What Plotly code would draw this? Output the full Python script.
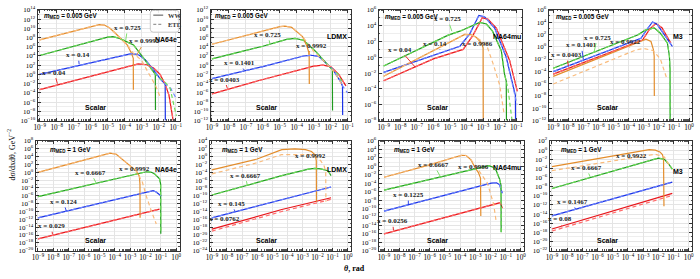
import plotly.graph_objects as go

W, H = 700, 279

# ---------------- colours ----------------
RED, RED_L = "#e8161b", "#ff6a6a"
BLUE, BLUE_L = "#1a32e6", "#6f86ff"
GREEN, GREEN_L = "#1f9a1f", "#6edc5a"
ORANGE, ORANGE_L = "#e38d2c", "#f9bb7c"

# ---------------- data: top-left  NA64e, m_MED = 0.005 GeV ----------------
t1_orange_theta = [1e-9, 1e-8, 1e-7, 1e-6, 3.2e-6, 6.3e-6, 1.26e-5, 2.3e-5, 5.6e-5, 1.4e-4, 2.5e-4, 3.2e-4, 3.24e-4]
t1_orange_ww = [3.2e7, 2.8e8, 2.5e9, 2.2e10, 6.3e10, 5e10, 1.26e10, 1.8e9, 6.3e7, 2.5e6, 4e4, 3.2e3, 5e-4]
t1_orange_etl_theta = [1e-9, 1e-8, 1e-7, 1e-6, 3.2e-6, 6.3e-6, 1.26e-5, 2.3e-5, 5.6e-5, 1.4e-4, 3.2e-4, 1e-3, 2.5e-3, 6.3e-3, 1.26e-2]
t1_orange_etl = [3.2e7, 2.8e8, 2.5e9, 2.2e10, 6.3e10, 5e10, 1.26e10, 1.8e9, 6.3e7, 2.5e6, 4e4, 1e3, 2, 5e-3, 1e-5]
t1_green_theta = [1e-9, 1e-7, 3.2e-6, 1e-5, 2e-5, 5e-5, 1.26e-4, 3.3e-4, 1.26e-3, 4.9e-3, 6.3e-3, 6.45e-3]
t1_green_ww = [1.26e4, 1.26e6, 4e7, 1.26e8, 1.6e8, 6.3e7, 1.26e7, 2.5e6, 4e3, 5, 1, 2e-8]
t1_green_etl_theta = [1e-9, 1e-7, 3.2e-6, 1e-5, 2e-5, 5e-5, 1.26e-4, 3.3e-4, 1.26e-3, 4.9e-3, 6.3e-3, 2.5e-2, 4.7e-2, 7.1e-2, 1.1e-1]
t1_green_etl = [1.26e4, 1.26e6, 4e7, 1.26e8, 1.6e8, 6.3e7, 1.26e7, 2.5e6, 4e3, 5, 1, 1.6e-2, 1e-3, 1e-6, 1e-9]
t1_blue_theta = [1e-9, 1e-7, 1e-5, 1e-4, 2.5e-4, 6.3e-4, 1.6e-3, 5e-3, 1.26e-2, 2.4e-2, 2.45e-2]
t1_blue_ww = [1, 50, 2.2e3, 1.6e4, 3.2e4, 2e4, 1.6e3, 10, 0.1, 7.9e-3, 1e-10]
t1_blue_etl_theta = [1e-9, 1e-7, 1e-5, 1e-4, 2.5e-4, 6.3e-4, 1.6e-3, 5e-3, 1.26e-2, 2.4e-2, 5e-2, 1e-1]
t1_blue_etl = [1, 50, 2.2e3, 1.6e4, 3.2e4, 2e4, 1.6e3, 10, 0.1, 7.9e-3, 1e-3, 1e-5]
t1_red_theta = [1e-9, 1e-6, 1e-4, 6.3e-4, 2e-3, 5e-3, 1.2e-2, 2.4e-2, 4e-2, 7.1e-2]
t1_red_ww = [5e-4, 0.4, 40, 200, 126, 25, 1, 7.9e-3, 3.2e-5, 1e-10]

# ---------------- data: LDMX, m_MED = 0.005 GeV ----------------
t2_orange_theta = [1e-9, 1e-7, 3.2e-6, 1e-5, 2e-5, 5e-5, 2.2e-4, 4e-4, 5.4e-4, 5.5e-4]
t2_orange_ww = [3.5e4, 2.5e6, 7.1e7, 2.2e8, 2.8e8, 1.6e8, 1.6e6, 1.26e4, 316, 7.9e-5]
t2_orange_etl_theta = [1e-9, 1e-7, 3.2e-6, 1e-5, 2e-5, 5e-5, 2.2e-4, 1e-3, 3.2e-3, 1e-2, 2.5e-2, 5e-2]
t2_orange_etl = [3.5e4, 2.5e6, 7.1e7, 2.2e8, 2.8e8, 1.6e8, 1.6e6, 1e3, 16, 0.32, 3.2e-3, 3.2e-5]
t2_green_theta = [1e-9, 1e-6, 2.5e-5, 7.9e-5, 2.5e-4, 1.3e-3, 7.9e-3, 1.26e-2, 1.29e-2]
t2_green_ww = [23, 1.26e4, 4e5, 6.3e5, 2.5e5, 1e3, 0.63, 0.1, 1.6e-10]
t2_green_etl_theta = [1e-9, 1e-6, 2.5e-5, 7.9e-5, 2.5e-4, 1.3e-3, 7.9e-3, 1.26e-2, 2.5e-2, 4.5e-2]
t2_green_etl = [23, 1.26e4, 4e5, 6.3e5, 2.5e5, 1e3, 0.63, 0.1, 1.6e-2, 3.2e-4]
t2_blue_theta = [1e-9, 1e-6, 2.5e-4, 6.8e-4, 2e-3, 1.35e-2, 4e-2, 5e-2, 5.1e-2]
t2_blue_ww = [1.26e-3, 0.5, 100, 141, 79, 0.126, 2e-4, 3.2e-5, 1.6e-11]
t2_blue_etl_theta = [1e-9, 1e-6, 2.5e-4, 6.8e-4, 2e-3, 1.35e-2, 4e-2, 5e-2, 1e-1]
t2_blue_etl = [1.26e-3, 0.5, 100, 141, 79, 0.126, 2e-4, 3.2e-5, 1e-6]
t2_red_theta = [1e-9, 1e-6, 1e-3, 3.5e-3, 1e-2, 3e-2, 7.9e-2]
t2_red_ww = [6.3e-7, 7.9e-4, 0.63, 1, 0.5, 1e-2, 3.2e-5]

# ---------------- data: NA64mu, m_MED = 0.005 GeV ----------------
t3_orange_theta = [1e-9, 1e-6, 2.5e-5, 7.9e-5, 2e-4, 4e-4, 7.9e-4, 1e-3, 1.02e-3]
t3_orange_ww = [4e-3, 7.1, 250, 790, 710, 316, 63, 16, 1e-8]
t3_orange_etl_theta = [1e-9, 1e-6, 2.5e-5, 7.9e-5, 2e-4, 4e-4, 1.6e-3, 4e-3, 1e-2, 1.5e-2, 1.8e-2]
t3_orange_etl = [4e-3, 7.1, 250, 790, 710, 316, 40, 0.16, 3.2e-4, 1.6e-6, 1e-7]
t3_green_theta = [1e-9, 1e-7, 7.9e-6, 4e-5, 2.5e-4, 6.3e-4, 1.6e-3, 3.7e-3, 1.26e-2, 1.95e-2, 2.5e-2, 2.57e-2]
t3_green_ww = [7.9e-2, 7.9, 630, 2e3, 1e4, 2.5e4, 1.6e4, 2e3, 6.9, 7.9e-3, 1e-3, 1e-8]
t3_green_etl_theta = [1e-9, 1e-7, 7.9e-6, 4e-5, 2.5e-4, 6.3e-4, 1.6e-3, 3.7e-3, 1.26e-2, 1.95e-2, 3.2e-2, 4.9e-2, 5.6e-2]
t3_green_etl = [7.9e-2, 7.9, 630, 2e3, 1e4, 2.5e4, 1.6e4, 2e3, 6.9, 7.9e-3, 1e-4, 4e-8, 1e-8]
t3_blue_theta = [1e-9, 1e-6, 4e-5, 1.6e-4, 5.6e-4, 1.26e-3, 5e-3, 2.5e-2, 5.9e-2, 8.9e-2, 9.1e-2]
t3_blue_ww = [1.26e-2, 1.8, 25, 1e3, 2e5, 1.26e5, 5e3, 1, 5e-4, 1.6e-5, 1e-8]
t3_blue_etl_theta = [1e-9, 1e-6, 4e-5, 1.6e-4, 5.6e-4, 1.26e-3, 5e-3, 2.5e-2, 5.9e-2, 1.12e-1]
t3_blue_etl = [1.26e-2, 1.8, 25, 1e3, 2e5, 1.26e5, 5e3, 1, 5e-4, 1e-6]
t3_red_theta = [1e-9, 1e-6, 6.3e-5, 2.5e-4, 8.9e-4, 2e-3, 6.3e-3, 4e-2, 1.17e-1]
t3_red_ww = [1.07e-3, 0.63, 10, 630, 1e5, 6.3e4, 5e3, 0.4, 5e-5]

# ---------------- data: M3, m_MED = 0.005 GeV ----------------
t4_orange_theta = [1e-9, 4e-4, 1.4e-3, 3e-3, 4.4e-3, 4.9e-3, 5e-3]
t4_orange_ww = [1.5e-5, 5, 16.6, 7.1, 0.32, 3.2e-2, 1e-8]
t4_orange_etl_theta = [1e-9, 8.5e-5, 3.2e-4, 1e-3, 4e-3, 1.26e-2, 3.5e-2]
t4_orange_etl = [8.9e-7, 0.1, 0.32, 0.5, 0.25, 1e-2, 5e-6]
t4_green_theta = [1e-9, 3.9e-4, 1.26e-3, 4.9e-3, 1.26e-2, 3.7e-2, 5e-2, 5.5e-2, 5.6e-2]
t4_green_ww = [3.2e-4, 79, 500, 1.2e3, 158, 3.8, 3.2e-2, 2.1e-4, 1e-12]
t4_blue_theta = [1e-9, 6.5e-4, 1.6e-3, 3.8e-3, 7.9e-3, 2.5e-2, 7.9e-2]
t4_blue_ww = [9.1e-5, 24, 630, 1.07e4, 4e3, 79, 1.1]
t4_red_theta = [1e-9, 8.3e-4, 2.5e-3, 6.3e-3, 1.6e-2, 6.2e-2]
t4_red_ww = [3.5e-5, 12.6, 790, 5.9e3, 1.26e3, 3.8]

# ---------------- data: NA64e, m_MED = 1 GeV ----------------
b1_orange_theta = [1e-9, 1e-6, 2e-5, 5e-5, 1.26e-4, 1e-3, 2.6e-3, 4e-3, 4.4e-3, 4.5e-3]
b1_orange_ww = [1, 1.26e3, 3.2e4, 7.9e4, 4e4, 40, 2, 0.1, 1e-3, 2.5e-12]
b1_orange_etl_theta = [1e-9, 1e-6, 2e-5, 5e-5, 1.26e-4, 1e-3, 2.6e-3, 6.3e-3, 1.17e-2, 2.5e-2, 5.1e-2]
b1_orange_etl = [1, 1.26e3, 3.2e4, 7.9e4, 4e4, 40, 2, 3.2e-3, 6.3e-7, 1e-10, 6.3e-14]
b1_green_theta = [1e-9, 7.1e-3, 1.17e-2, 2.5e-2, 4e-2, 8.3e-2, 9.8e-2, 1e-1]
b1_green_ww = [6.3e-7, 1, 1.4, 1, 0.4, 2.1e-2, 1e-3, 2e-16]
b1_blue_theta = [1e-9, 1.9e-2, 3.2e-2, 5e-2, 1.07e-1]
b1_blue_ww = [2.5e-12, 1.9e-5, 2e-5, 1e-5, 8.9e-7]
b1_red_theta = [1e-9, 3.2e-2, 8.3e-2]
b1_red_ww = [1e-17, 1.6e-10, 4e-10]

# ---------------- data: LDMX, m_MED = 1 GeV ----------------
b2_orange_theta = [1e-9, 1e-6, 4.3e-5, 3.2e-4, 1.6e-3, 4e-3, 7.1e-3, 8.3e-3, 8.5e-3]
b2_orange_ww = [4.4e-4, 0.25, 59, 100, 63, 20, 2.5, 0.1, 3.2e-12]
b2_orange_etl_theta = [1e-9, 1e-6, 4e-5, 1e-3, 4e-3, 1.6e-2, 2.8e-2, 3.5e-2, 3.6e-2]
b2_orange_etl = [4e-5, 2.8e-2, 3.2, 4, 3.2, 0.1, 3.5e-3, 1e-4, 3.2e-12]
b2_green_theta = [1e-9, 4.3e-5, 2.5e-3, 6.5e-3, 1.6e-2, 4.9e-2, 7.9e-2]
b2_green_ww = [1.6e-10, 1.4e-5, 6.3e-4, 1e-3, 7.9e-4, 2.5e-4, 1.4e-5]
b2_blue_theta = [1e-9, 4.3e-5, 7.9e-2]
b2_blue_ww = [2.5e-16, 7.9e-12, 1.8e-8]
b2_red_theta = [1e-9, 4.3e-5, 7.9e-2]
b2_red_ww = [3.2e-19, 3.2e-14, 3.2e-11]
b2_red_etl = [1e-19, 1e-14, 1.26e-11]

# ---------------- data: NA64mu, m_MED = 1 GeV ----------------
b3_orange_theta = [1e-9, 1e-6, 5e-5, 1.26e-4, 2.5e-4, 5e-4, 1e-3, 1.6e-3, 2.2e-3, 2.3e-3]
b3_orange_ww = [2.5e-3, 2.2, 160, 400, 355, 40, 0.4, 3.2e-2, 1.6e-3, 1.6e-12]
b3_orange_etl_theta = [1e-9, 1e-6, 5e-5, 1.26e-4, 2.5e-4, 5e-4, 1e-3, 3.2e-3, 6.3e-3, 1.6e-2, 2.4e-2]
b3_orange_etl = [2.5e-3, 2.2, 160, 400, 355, 40, 1.6, 3.2e-3, 1e-4, 1e-9, 5e-14]
b3_green_theta = [1e-9, 4e-3, 7.9e-3, 1.6e-2, 2.4e-2, 3.9e-2, 4.9e-2, 5e-2]
b3_green_ww = [2.2e-6, 1.1, 1.4, 0.5, 8.9e-2, 1e-3, 3.2e-5, 2.5e-16]
b3_blue_theta = [1e-9, 1.1e-2, 2.5e-2, 4e-2, 5.9e-2]
b3_blue_ww = [2.3e-11, 1.07e-4, 1.26e-4, 4e-5, 4e-7]
b3_red_theta = [1e-9, 2.4e-2, 4.5e-2, 5.9e-2]
b3_red_ww = [1e-16, 2e-9, 2.5e-9, 1.26e-10]

# ---------------- data: M3, m_MED = 1 GeV ----------------
b4_orange_theta = [1e-9, 1e-6, 1e-4, 1e-3, 2.5e-3, 6.3e-3, 1.26e-2, 1.86e-2, 2.2e-2, 2.35e-2]
b4_orange_ww = [2.5e-4, 1.4e-2, 0.22, 0.79, 1.23, 1, 0.4, 0.107, 1e-2, 5e-13]
b4_orange_etl_theta = [1e-9, 1e-5, 1e-3, 6.3e-3, 2.5e-2, 6.3e-2]
b4_orange_etl = [3.2e-5, 4e-3, 5e-2, 0.126, 3.2e-2, 1.6e-4]
b4_green_theta = [1e-9, 6.8e-3, 1e-2, 2.5e-2, 5e-2, 8.3e-2]
b4_green_ww = [4e-9, 1.5e-2, 1.8e-2, 1e-2, 7.9e-4, 6.9e-5]
b4_blue_theta = [1e-9, 8.3e-2]
b4_blue_ww = [4e-15, 1e-7]
b4_red_theta = [1e-9, 8.3e-2]
b4_red_ww = [5.6e-18, 3.5e-10]
b4_red_etl = [2e-18, 1.26e-10]

# text content
experiments = ["NA64e", "LDMX", "NA64mu", "M3", "NA64e", "LDMX", "NA64mu", "M3"]
masses = ["0.005", "0.005", "0.005", "0.005", "1", "1", "1", "1"]
x_labels = [
    ["x = 0.04", "x = 0.14", "x = 0.725", "x = 0.9992"],
    ["x = 0.0403", "x = 0.1401", "x = 0.725", "x = 0.9992"],
    ["x = 0.04", "x = 0.14", "x = 0.725", "x = 0.9986"],
    ["x = 0.0403", "x = 0.1401", "x = 0.725", "x = 0.9922"],
    ["x = 0.029", "x = 0.124", "x = 0.6667", "x = 0.9992"],
    ["x = 0.0762", "x = 0.145", "x = 0.6667", "x = 0.9992"],
    ["x = 0.0256", "x = 0.1225", "x = 0.6667", "x = 0.9986"],
    ["x = 0.08", "x = 0.1467", "x = 0.6667", "x = 0.9922"],
]

# curves per panel: (solid colour, dashed colour, theta_ww, ww, theta_etl, etl)
curves = [
    [(RED, RED_L, t1_red_theta, t1_red_ww, t1_red_theta, t1_red_ww),
     (BLUE, BLUE_L, t1_blue_theta, t1_blue_ww, t1_blue_etl_theta, t1_blue_etl),
     (GREEN, GREEN_L, t1_green_theta, t1_green_ww, t1_green_etl_theta, t1_green_etl),
     (ORANGE, ORANGE_L, t1_orange_theta, t1_orange_ww, t1_orange_etl_theta, t1_orange_etl)],
    [(RED, RED_L, t2_red_theta, t2_red_ww, t2_red_theta, t2_red_ww),
     (BLUE, BLUE_L, t2_blue_theta, t2_blue_ww, t2_blue_etl_theta, t2_blue_etl),
     (GREEN, GREEN_L, t2_green_theta, t2_green_ww, t2_green_etl_theta, t2_green_etl),
     (ORANGE, ORANGE_L, t2_orange_theta, t2_orange_ww, t2_orange_etl_theta, t2_orange_etl)],
    [(RED, RED_L, t3_red_theta, t3_red_ww, t3_red_theta, t3_red_ww),
     (BLUE, BLUE_L, t3_blue_theta, t3_blue_ww, t3_blue_etl_theta, t3_blue_etl),
     (GREEN, GREEN_L, t3_green_theta, t3_green_ww, t3_green_etl_theta, t3_green_etl),
     (ORANGE, ORANGE_L, t3_orange_theta, t3_orange_ww, t3_orange_etl_theta, t3_orange_etl)],
    [(RED, RED_L, t4_red_theta, t4_red_ww, t4_red_theta, t4_red_ww),
     (BLUE, BLUE_L, t4_blue_theta, t4_blue_ww, t4_blue_theta, t4_blue_ww),
     (GREEN, GREEN_L, t4_green_theta, t4_green_ww, t4_green_theta, t4_green_ww),
     (ORANGE, ORANGE_L, t4_orange_theta, t4_orange_ww, t4_orange_etl_theta, t4_orange_etl)],
    [(RED, RED_L, b1_red_theta, b1_red_ww, b1_red_theta, b1_red_ww),
     (BLUE, BLUE_L, b1_blue_theta, b1_blue_ww, b1_blue_theta, b1_blue_ww),
     (GREEN, GREEN_L, b1_green_theta, b1_green_ww, b1_green_theta, b1_green_ww),
     (ORANGE, ORANGE_L, b1_orange_theta, b1_orange_ww, b1_orange_etl_theta, b1_orange_etl)],
    [(RED, RED_L, b2_red_theta, b2_red_ww, b2_red_theta, b2_red_etl),
     (BLUE, BLUE_L, b2_blue_theta, b2_blue_ww, b2_blue_theta, b2_blue_ww),
     (GREEN, GREEN_L, b2_green_theta, b2_green_ww, b2_green_theta, b2_green_ww),
     (ORANGE, ORANGE_L, b2_orange_theta, b2_orange_ww, b2_orange_etl_theta, b2_orange_etl)],
    [(RED, RED_L, b3_red_theta, b3_red_ww, b3_red_theta, b3_red_ww),
     (BLUE, BLUE_L, b3_blue_theta, b3_blue_ww, b3_blue_theta, b3_blue_ww),
     (GREEN, GREEN_L, b3_green_theta, b3_green_ww, b3_green_theta, b3_green_ww),
     (ORANGE, ORANGE_L, b3_orange_theta, b3_orange_ww, b3_orange_etl_theta, b3_orange_etl)],
    [(RED, RED_L, b4_red_theta, b4_red_ww, b4_red_theta, b4_red_etl),
     (BLUE, BLUE_L, b4_blue_theta, b4_blue_ww, b4_blue_theta, b4_blue_ww),
     (GREEN, GREEN_L, b4_green_theta, b4_green_ww, b4_green_theta, b4_green_ww),
     (ORANGE, ORANGE_L, b4_orange_theta, b4_orange_ww, b4_orange_etl_theta, b4_orange_etl)],
]

# ---------------- layout (pixel boxes of the plot areas) ----------------
boxes = [  # left, right, top, bottom (px), x range (log), y range (log)
    (33, 177, 6, 120, [-9.12, -0.75], [-10, 14]),
    (208, 350, 6, 120, [-9.08, -0.8], [-12, 12]),
    (378, 523, 6, 120, [-9.3, -0.65], [-8, 6]),
    (550, 695, 6, 120, [-9.3, 0.2], [-12, 6]),
    (31, 177, 141, 254, [-9.15, 0.25], [-20, 8]),
    (207, 350, 141, 254, [-9.15, 0.22], [-24, 4]),
    (378, 525, 141, 254, [-9.35, 0.2], [-20, 6]),
    (551, 695, 141, 254, [-9.15, 0.22], [-22, 2]),
]

# label boxes: (text centre px, pointer target px) for red, blue, green, orange
label_pos = [
    [((50, 71), (53, 82)), ((74, 53), (75, 62)), ((124, 25), (122, 38)), ((141, 39), (133, 53))],
    [((222, 78), (225, 87)), ((237, 61), (242, 68)), ((266, 32), (268, 41)), ((310, 43), (307, 52))],
    [((400, 48), (415, 65)), ((435, 41), (440, 47)), ((448, 16), (452, 28)), ((478, 41), (470, 36))],
    [((568, 53), (570, 64)), ((583, 43), (585, 57)), ((599, 35), (596, 49)), ((628, 39), (632, 45))],
    [((47, 229), (48, 237)), ((59, 204), (62, 213)), ((87, 174), (92, 184)), ((131, 170), (133, 176))],
    [((222, 222), (223, 228)), ((229, 206), (233, 214)), ((243, 177), (245, 186)), ((309, 156), (302, 152))],
    [((392, 224), (393, 233)), ((408, 197), (408, 207)), ((434, 166), (440, 177)), ((474, 168), (467, 172))],
    [((561, 222), (563, 228)), ((574, 204), (577, 211)), ((588, 169), (592, 178)), ((634, 157), (636, 162))],
]
m_pos = [(37, 12), (210, 12), (382, 13), (555, 13), (44, 150), (217, 150), (391, 150), (560, 150)]
exp_pos = [(176, 37), (348, 33), (524, 33), (688, 33), (176, 170), (348, 170), (524, 168), (688, 172)]
scalar_pos = [(92, 107), (265, 107), (437, 107), (609, 107), (92, 243), (265, 243), (437, 243), (609, 243)]

SERIF = "Liberation Serif"
SANS = "Liberation Sans"


def sup(e):
    return "10<sup>" + ("\u2212" if e < 0 else "") + str(abs(e)) + "</sup>"


fig = go.Figure()
layout = dict(
    width=W, height=H, autosize=False,
    margin=dict(l=0, r=0, t=0, b=0),
    paper_bgcolor="white", plot_bgcolor="white",
    showlegend=False,
    font=dict(family=SERIF, size=7, color="black"),
)
annotations = []
shapes = []

for i, (L, R, T, B, xr, yr) in enumerate(boxes):
    n = "" if i == 0 else str(i + 1)
    xa, ya = "x" + n, "y" + n
    xt = list(range(-9, 1))
    yt = [e for e in range(yr[0], yr[1] + 1) if e % 2 == 0]
    ym = [e for e in range(yr[0], yr[1] + 1) if e % 2 != 0]
    layout["xaxis" + n] = dict(
        type="log", range=xr, domain=[L / W, R / W], anchor=ya,
        tickmode="array", tickvals=[10.0 ** e for e in xt], ticktext=[sup(e) for e in xt],
        tickangle=0,
        ticks="inside", ticklen=3, tickcolor="#333", mirror="allticks",
        showline=True, linecolor="#333", linewidth=1,
        showgrid=True, gridcolor="#e4e4e4", gridwidth=0.6,
        minor=dict(dtick="D1", ticks="inside", ticklen=1.5, tickcolor="#555", showgrid=False),
        tickfont=dict(family=SERIF, size=7.2), zeroline=False,
    )
    layout["yaxis" + n] = dict(
        type="log", range=yr, domain=[1 - B / H, 1 - T / H], anchor=xa,
        tickmode="array", tickvals=[10.0 ** e for e in yt], ticktext=[sup(e) for e in yt],
        tickangle=0,
        ticks="inside", ticklen=3, tickcolor="#333", mirror="allticks",
        showline=True, linecolor="#333", linewidth=1,
        showgrid=True, gridcolor="#e4e4e4", gridwidth=0.6,
        minor=dict(tickvals=[10.0 ** e for e in ym], ticks="inside", ticklen=1.5,
                   tickcolor="#555", showgrid=True, gridcolor="#eeeeee"),
        tickfont=dict(family=SERIF, size=7), zeroline=False,
    )
    # curves: solid (WW) first, then dashed (ETL)
    for (c, cl, th, ww, the, etl) in curves[i]:
        fig.add_trace(go.Scatter(x=th, y=ww, mode="lines", xaxis=xa, yaxis=ya,
                                 line=dict(color=c, width=1.2), hoverinfo="skip"))
    for (c, cl, th, ww, the, etl) in curves[i]:
        fig.add_trace(go.Scatter(x=the, y=etl, mode="lines", xaxis=xa, yaxis=ya,
                                 line=dict(color=cl, width=1.2, dash="4px,3px"), hoverinfo="skip"))
    # curve labels with pointers
    for k, ((lx, ly), (tx, ty)) in enumerate(label_pos[i]):
        col = [RED, BLUE, GREEN_L, ORANGE][k]
        annotations.append(dict(
            x=tx / W, y=1 - ty / H, xref="paper", yref="paper",
            ax=lx - tx, ay=ly - ty, axref="pixel", ayref="pixel",
            text="<b>" + x_labels[i][k] + "</b>", showarrow=True, arrowhead=0,
            arrowwidth=0.9, arrowcolor=col, standoff=0, startstandoff=0,
            font=dict(family=SERIF, size=7, color="#222"),
        ))
    # m_MED
    mx, my = m_pos[i]
    annotations.append(dict(
        x=mx / W, y=1 - my / H, xref="paper", yref="paper", xanchor="left", yanchor="middle",
        text="<b><i>m</i><sub>MED</sub> = " + masses[i] + " GeV</b>", showarrow=False,
        font=dict(family=SANS, size=6.3, color="black"),
    ))
    ex, ey = exp_pos[i]
    annotations.append(dict(
        x=ex / W, y=1 - ey / H, xref="paper", yref="paper", xanchor="right", yanchor="middle",
        text="<b>" + experiments[i] + "</b>", showarrow=False,
        font=dict(family=SANS, size=7, color="black"),
    ))
    sx, sy = scalar_pos[i]
    annotations.append(dict(
        x=sx / W, y=1 - sy / H, xref="paper", yref="paper", xanchor="center", yanchor="middle",
        text="<b>Scalar</b>", showarrow=False,
        font=dict(family=SANS, size=7, color="black"),
    ))

# legend box (top-left panel)
lx0, ly0, lx1, ly1 = 147, 6.5, 176, 29
r = 3
path = (f"M {(lx0 + r) / W},{1 - ly0 / H} L {(lx1 - r) / W},{1 - ly0 / H} "
        f"Q {lx1 / W},{1 - ly0 / H} {lx1 / W},{1 - (ly0 + r) / H} "
        f"L {lx1 / W},{1 - (ly1 - r) / H} Q {lx1 / W},{1 - ly1 / H} {(lx1 - r) / W},{1 - ly1 / H} "
        f"L {(lx0 + r) / W},{1 - ly1 / H} Q {lx0 / W},{1 - ly1 / H} {lx0 / W},{1 - (ly1 - r) / H} "
        f"L {lx0 / W},{1 - (ly0 + r) / H} Q {lx0 / W},{1 - ly0 / H} {(lx0 + r) / W},{1 - ly0 / H} Z")
shapes.append(dict(type="path", path=path, xref="paper", yref="paper",
                   line=dict(color="#bbbbbb", width=0.8), fillcolor="rgba(255,255,255,0.9)"))
shapes.append(dict(type="line", xref="paper", yref="paper", x0=150 / W, x1=160 / W,
                   y0=1 - 11.5 / H, y1=1 - 11.5 / H, line=dict(color="#777", width=1.3)))
shapes.append(dict(type="line", xref="paper", yref="paper", x0=150 / W, x1=160 / W,
                   y0=1 - 21 / H, y1=1 - 21 / H, line=dict(color="#999", width=1.3, dash="3px,2px")))
annotations.append(dict(x=163 / W, y=1 - 11.5 / H, xref="paper", yref="paper", xanchor="left",
                        yanchor="middle", text="<b>WW</b>", showarrow=False,
                        font=dict(family=SERIF, size=6.5, color="#333")))
annotations.append(dict(x=163 / W, y=1 - 21 / H, xref="paper", yref="paper", xanchor="left",
                        yanchor="middle", text="<b>ETL</b>", showarrow=False,
                        font=dict(family=SERIF, size=6.5, color="#333")))

# axis titles
annotations.append(dict(x=6 / W, y=1 - 155 / H, xref="paper", yref="paper", textangle=-90,
                        xanchor="center", yanchor="middle",
                        text="d\u03c3/dxd\u03b8, GeV<sup>\u22122</sup>", showarrow=False,
                        font=dict(family=SERIF, size=8, color="black")))
annotations.append(dict(x=354 / W, y=1 - 272 / H, xref="paper", yref="paper",
                        xanchor="center", yanchor="middle",
                        text="<b><i>\u03b8</i>, rad</b>", showarrow=False,
                        font=dict(family=SERIF, size=8, color="black")))

layout["annotations"] = annotations
layout["shapes"] = shapes
fig.update_layout(**layout)

fig.write_html("out.html", config={"displayModeBar": False},
               post_script="document.body.style.margin='0';")
